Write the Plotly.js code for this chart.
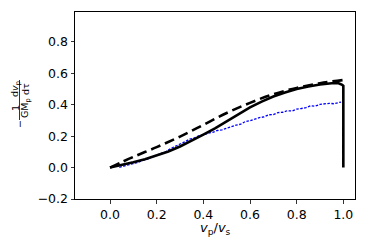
<!DOCTYPE html>
<html>
<head>
<meta charset="utf-8">
<script src="https://cdn.plot.ly/plotly-3.0.1.min.js"></script>
<style>html,body{margin:0;padding:0;background:#fff;}#plot{width:374px;height:249px;}</style>
</head>
<body>
<div id="plot"></div>
<script>
// Solid black curve
var solidX = [0, 0.05, 0.1, 0.15, 0.2, 0.25, 0.3, 0.35, 0.4, 0.45, 0.5, 0.55, 0.6, 0.65, 0.7, 0.75, 0.8, 0.85, 0.9, 0.95, 0.98, 0.995, 1.0, 1.0];
var solidY = [0, 0.016, 0.034, 0.053, 0.076, 0.102, 0.134, 0.17, 0.21, 0.25, 0.295, 0.34, 0.383, 0.42, 0.452, 0.478, 0.5, 0.516, 0.529, 0.537, 0.537, 0.527, 0.52, 0];
// Dashed black curve
var dashX = [0, 0.1, 0.2, 0.3, 0.4, 0.5, 0.6, 0.7, 0.8, 0.9, 1.0];
var dashY = [0, 0.068, 0.13, 0.197, 0.272, 0.347, 0.412, 0.467, 0.507, 0.537, 0.557];
// Blue dotted noisy curve
var blueX = [0.04,0.06,0.08,0.10,0.12,0.14,0.16,0.18,0.20,0.22,0.24,0.26,0.28,0.30,0.32,0.34,0.36,0.38,0.40,0.42,0.44,0.46,0.48,0.50,0.52,0.54,0.56,0.58,0.60,0.62,0.64,0.66,0.68,0.70,0.72,0.74,0.76,0.78,0.80,0.82,0.84,0.86,0.88,0.90,0.92,0.94,0.96,0.98,0.99];
var blueY = [0.002,0.010,0.016,0.027,0.033,0.046,0.054,0.068,0.079,0.092,0.102,0.121,0.138,0.150,0.163,0.180,0.188,0.202,0.207,0.219,0.224,0.236,0.240,0.251,0.258,0.270,0.276,0.293,0.298,0.310,0.318,0.322,0.336,0.337,0.350,0.352,0.362,0.360,0.372,0.376,0.381,0.393,0.391,0.402,0.404,0.409,0.406,0.414,0.417];

var xTicks = [0, 0.2, 0.4, 0.6, 0.8, 1.0];
var xTickText = ['0.0', '0.2', '0.4', '0.6', '0.8', '1.0'];
var yTicks = [-0.2, 0, 0.2, 0.4, 0.6, 0.8];
var yTickText = ['\u22120.2', '0.0', '0.2', '0.4', '0.6', '0.8'];

var W = 374, H = 249, ML = 75, MR = 19, MT = 12, MB = 50;
function px(x) { return (x - ML) / (W - ML - MR); }
function py(y) { return (H - MB - y) / (H - MT - MB); }

var font = 'DejaVu Sans, sans-serif';
var lab = {size: 9.5, color: '#000', family: font};
function ann(text, x, y) {
  return {text: text, x: px(x), y: py(y), xref: 'paper', yref: 'paper', showarrow: false,
          textangle: -90, xanchor: 'center', yanchor: 'middle', font: lab};
}

var traces = [
  {x: blueX, y: blueY, mode: 'lines', line: {color: '#0000ff', width: 1.3, dash: '2.5px,1.5px'}, hoverinfo: 'skip'},
  {x: dashX, y: dashY, mode: 'lines', line: {color: '#000', width: 2.6, dash: '10px,5px', shape: 'spline'}, hoverinfo: 'skip'},
  {x: solidX, y: solidY, mode: 'lines', line: {color: '#000', width: 2.6}, hoverinfo: 'skip'}
];

var layout = {
  width: W, height: H,
  margin: {l: ML, r: MR, t: MT, b: MB, pad: 0},
  paper_bgcolor: '#fff', plot_bgcolor: '#fff',
  showlegend: false,
  font: {family: font, size: 12.5, color: '#000'},
  xaxis: {range: [-0.15, 1.05], tickvals: xTicks, ticktext: xTickText, ticks: 'outside', ticklen: 3.5, tickwidth: 0.8,
          tickcolor: '#000', showline: true, linecolor: '#000', linewidth: 1, mirror: true, showgrid: false, zeroline: false,
          tickfont: {size: 12.5, family: font}},
  yaxis: {range: [-0.2, 0.99], tickvals: yTicks, ticktext: yTickText, ticks: 'outside', ticklen: 3.5, tickwidth: 0.8,
          tickcolor: '#000', showline: true, linecolor: '#000', linewidth: 1, mirror: true, showgrid: false, zeroline: false,
          tickfont: {size: 12.5, family: font}},
  annotations: [
    {text: '<i>v</i><sub>p</sub>/<i>v</i><sub>s</sub>', x: px(215), y: py(228), xref: 'paper', yref: 'paper', showarrow: false,
     xanchor: 'center', yanchor: 'middle', font: {size: 13, family: font, color: '#000'}},
    ann('\u2212', 20, 124),
    ann('1', 15, 108),
    ann('GM<sub>p</sub>', 25, 108),
    ann('d<i>v</i><sub>p</sub>', 15, 89),
    ann('d\u03c4', 25, 89)
  ],
  shapes: [
    {type: 'line', xref: 'paper', yref: 'paper', x0: px(19.5), x1: px(19.5), y0: py(97), y1: py(120), line: {color: '#000', width: 0.8}},
    {type: 'line', xref: 'paper', yref: 'paper', x0: px(19.5), x1: px(19.5), y0: py(80), y1: py(97), line: {color: '#000', width: 0.8}}
  ]
};

Plotly.newPlot('plot', traces, layout, {staticPlot: true, displayModeBar: false});
</script>
</body>
</html>
